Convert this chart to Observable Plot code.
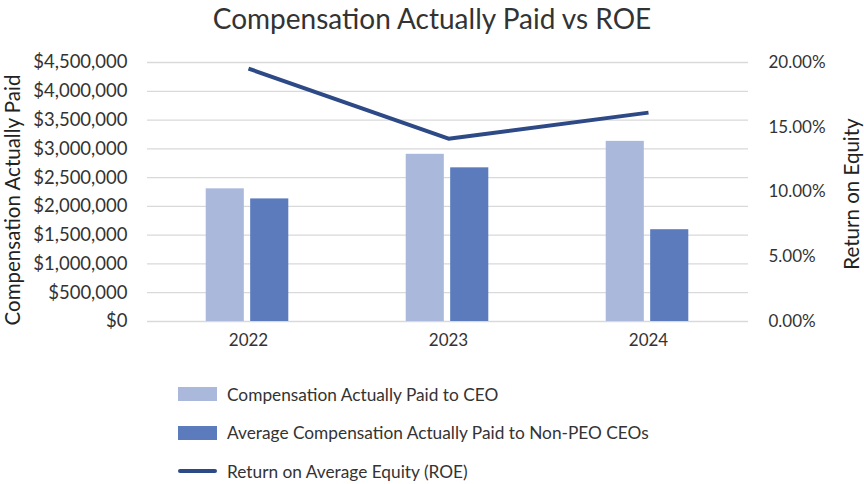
<!DOCTYPE html>
<html>
<head>
<meta charset="utf-8">
<script src="https://cdn.jsdelivr.net/npm/d3@7"></script>
<script src="https://cdn.jsdelivr.net/npm/@observablehq/plot@0.6"></script>
<style>
  body { margin: 0; background: #fff; font-family: Lato, "Open Sans", sans-serif; color: #333; }
  #wrap { width: 864px; position: relative; }
  #title { text-align: center; font-size: 28px; height: 40px; line-height: 36px; }
  #legend { margin-left: 178px; margin-top: 25px; font-size: 17.3px; }
  .row { display: flex; align-items: center; height: 38.5px; }
  .sw { width: 39px; height: 14px; margin-right: 10px; }
  .ln { width: 39px; height: 4px; margin-right: 10px; border-radius: 2px; }
</style>
</head>
<body>
<div id="wrap">
  <div id="title">Compensation Actually Paid vs ROE</div>
  <div id="chart"></div>
  <div id="legend"></div>
</div>
<script>
// Fiscal years and the values plotted for each
const years = ["2022", "2023", "2024"];
const ceoCap = [2305000, 2905000, 3130000];
const nonPeoCap = [2130000, 2670000, 1595000];
const roe = [0.1953, 0.1412, 0.1613];

const seriesNames = [
  "Compensation Actually Paid to CEO",
  "Average Compensation Actually Paid to Non-PEO CEOs",
  "Return on Average Equity (ROE)"
];
const colors = ["#aab8dc", "#5b7bbd", "#2d4a86"];

const leftTicks = d3.range(0, 4500001, 500000);
const rightTicks = [0, 0.05, 0.10, 0.15, 0.20];

// Left axis spans $0–$4.5M; right axis spans 0–20%, sharing the same vertical extent
const yMax = 4500000;
const roeMax = 0.20;
const toY = r => r / roeMax * yMax;

const ceoRows = years.map((y, i) => ({year: y, value: ceoCap[i]}));
const nonRows = years.map((y, i) => ({year: y, value: nonPeoCap[i]}));
const roeRows = years.map((y, i) => ({year: y, roe: roe[i]}));

const width = 864, height = 310;
const marginLeft = 147, marginRight = 116, marginTop = 22, marginBottom = 29;
const band = (width - marginLeft - marginRight) / years.length;
const barW = band * 0.192;
const gap = band * 0.03;
// Each year's pair of bars sits slightly left of the band centre
const ceoInsetL = band / 2 - gap / 2 - barW - 1;
const nonInsetL = band / 2 + gap / 2 - 1;

const fmtMoney = d => "$" + d3.format(",")(d);
const fmtPct = d => (d * 100).toFixed(2) + "%";

const chart = Plot.plot({
  width, height, marginLeft, marginRight, marginTop, marginBottom,
  style: {fontFamily: "Lato, 'Open Sans', sans-serif", fontSize: "17px", color: "#333", background: "#fff", overflow: "visible"},
  x: {type: "band", domain: years, padding: 0, label: null},
  y: {domain: [0, yMax], label: null},
  marks: [
    Plot.gridY(leftTicks, {stroke: "#d9d9d9", strokeOpacity: 1, strokeWidth: 1.3}),
    Plot.axisY(leftTicks, {anchor: "left", tickSize: 0, tickPadding: 20, tickFormat: fmtMoney, fontSize: 18.5}),
    Plot.axisY(rightTicks.map(toY), {anchor: "right", tickSize: 0, tickPadding: 20, textAnchor: "start",
      tickFormat: d => fmtPct(d / yMax * roeMax), fontSize: 17}),
    Plot.axisX(years, {tickSize: 0, tickPadding: 12, fontSize: 17}),
    Plot.barY(ceoRows, {x: "year", y: "value", fill: colors[0],
      insetLeft: ceoInsetL, insetRight: band - ceoInsetL - barW}),
    Plot.barY(nonRows, {x: "year", y: "value", fill: colors[1],
      insetLeft: nonInsetL, insetRight: band - nonInsetL - barW}),
    Plot.lineY(roeRows, {x: "year", y: d => toY(d.roe), stroke: colors[2], strokeWidth: 4, strokeLinecap: "butt"}),
    Plot.text(["Compensation Actually Paid"], {frameAnchor: "left", textAnchor: "middle", dx: -134, dy: 8,
      rotate: -90, fontSize: 20.5, fill: "#222"}),
    Plot.text(["Return on Equity"], {frameAnchor: "right", textAnchor: "middle", dx: 104, dy: 2,
      rotate: -90, fontSize: 20.5, fill: "#222"})
  ]
});
document.getElementById("chart").appendChild(chart);

// Legend below the chart
const legend = document.getElementById("legend");
seriesNames.forEach((name, i) => {
  const row = document.createElement("div");
  row.className = "row";
  const sw = document.createElement("div");
  sw.className = i < 2 ? "sw" : "ln";
  sw.style.background = colors[i];
  row.appendChild(sw);
  const t = document.createElement("span");
  t.textContent = name;
  row.appendChild(t);
  legend.appendChild(row);
});
</script>
</body>
</html>
